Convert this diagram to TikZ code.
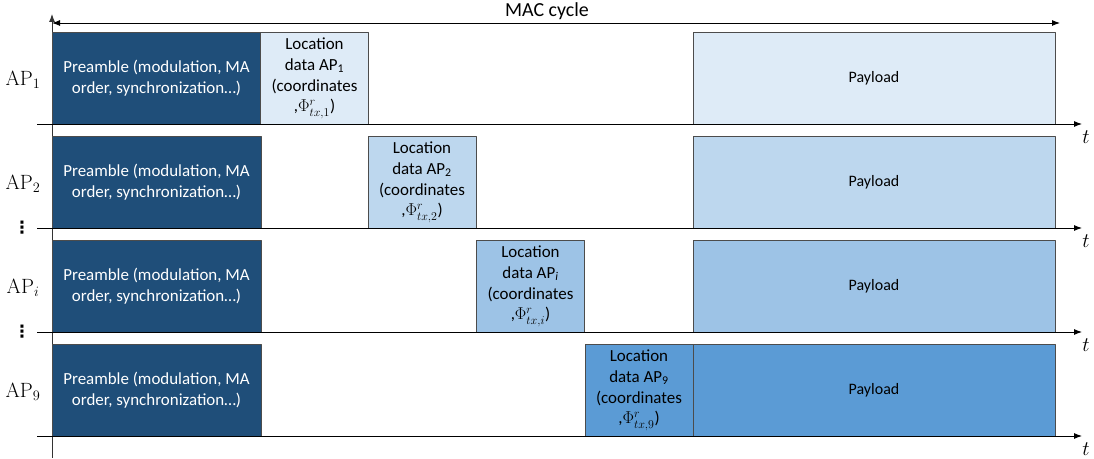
\documentclass[tikz,border=0pt]{standalone}
\usepackage[no-math]{fontspec}
\setmainfont{Carlito}
\newfontfamily\symfont{DejaVu Sans}
\usetikzlibrary{arrows.meta}
\definecolor{preblue}{HTML}{1F4E79}
\definecolor{rowa}{HTML}{DEEBF7}
\definecolor{rowb}{HTML}{BDD7EE}
\definecolor{rowc}{HTML}{9DC3E6}
\definecolor{rowd}{HTML}{5B9BD5}
\tikzset{
  slot/.style={draw=black!70,line width=0.7bp,inner sep=0pt,minimum height=92bp,align=center,
    font=\fontsize{17}{21}\selectfont},
  preamble/.style={slot,fill=preblue,text=white,minimum width=209bp},
  locdata/.style={slot,minimum width=108bp},
  payload/.style={slot,minimum width=362bp,font=\fontsize{16}{20}\selectfont},
  aplabel/.style={font=\fontsize{21}{25}\selectfont},
  dotlabel/.style={inner sep=0pt,font=\symfont\bfseries\fontsize{17}{19}\selectfont},
  tlabel/.style={font=\fontsize{21}{25}\selectfont},
  timeaxis/.style={black,line width=0.9bp,->},
}
\begin{document}
\begin{tikzpicture}[>={Latex[length=8bp,width=6bp]},line join=bevel,x=1bp,y=-1bp]
\useasboundingbox (0,0) rectangle (1094,459);
%%
\coordinate (yaxis0) at (52,458);
  \coordinate (yaxis1) at (52,14);
  \coordinate (mac0) at (52,23);
  \coordinate (mac1) at (1060,23);
  \node (mac) at (547,11) [font=\fontsize{20}{24}\selectfont] {MAC cycle};
  \draw [timeaxis,black!80] (yaxis0) -- (yaxis1);
  \draw [black,line width=0.9bp,<->] (mac0) -- (mac1);
%% row AP_1
  \node (pre1) at (156.5,78) [preamble] {Preamble (modulation, MA\\order, synchronization…)};
  \node (loc1) at (314.5,78) [locdata,fill=rowa] {Location\\data AP\textsubscript{1}\\(coordinates\\,$\Phi^{r}_{tx,1}$)};
  \node (pay1) at (874,78) [payload,fill=rowa] {Payload};
  \node (ap1) at (23,80) [aplabel] {$\mathrm{AP}_{1}$};
  \coordinate (axis1) at (37,124);
  \node (t1) at (1086,137) [tlabel] {$t$};
  \draw [timeaxis] (axis1) -- (1082,124);
%% row AP_2
  \node (pre2) at (156.5,182) [preamble] {Preamble (modulation, MA\\order, synchronization…)};
  \node (loc2) at (422,182) [locdata,fill=rowb] {Location\\data AP\textsubscript{2}\\(coordinates\\,$\Phi^{r}_{tx,2}$)};
  \node (pay2) at (874,182) [payload,fill=rowb] {Payload};
  \node (ap2) at (23,184) [aplabel] {$\mathrm{AP}_{2}$};
  \node (dots2) at (22,228) [dotlabel] {⋮};
  \coordinate (axis2) at (37,228);
  \node (t2) at (1086,241) [tlabel] {$t$};
  \draw [timeaxis] (axis2) -- (1082,228);
%% row AP_i
  \node (pre3) at (156.5,286) [preamble] {Preamble (modulation, MA\\order, synchronization…)};
  \node (loc3) at (530.5,286) [locdata,fill=rowc] {Location\\data AP\textsubscript{\textit{i}}\\(coordinates\\,$\Phi^{r}_{tx,i}$)};
  \node (pay3) at (874,286) [payload,fill=rowc] {Payload};
  \node (ap3) at (23,288) [aplabel] {$\mathrm{AP}_{i}$};
  \node (dots3) at (22,332) [dotlabel] {⋮};
  \coordinate (axis3) at (37,332);
  \node (t3) at (1086,345) [tlabel] {$t$};
  \draw [timeaxis] (axis3) -- (1082,332);
%% row AP_9
  \node (pre4) at (156.5,390) [preamble] {Preamble (modulation, MA\\order, synchronization…)};
  \node (loc4) at (639,390) [locdata,fill=rowd] {Location\\data AP\textsubscript{9}\\(coordinates\\,$\Phi^{r}_{tx,9}$)};
  \node (pay4) at (874,390) [payload,fill=rowd] {Payload};
  \node (ap4) at (23,392) [aplabel] {$\mathrm{AP}_{9}$};
  \coordinate (axis4) at (37,436);
  \node (t4) at (1086,449) [tlabel] {$t$};
  \draw [timeaxis] (axis4) -- (1082,436);
%
\end{tikzpicture}
\end{document}
